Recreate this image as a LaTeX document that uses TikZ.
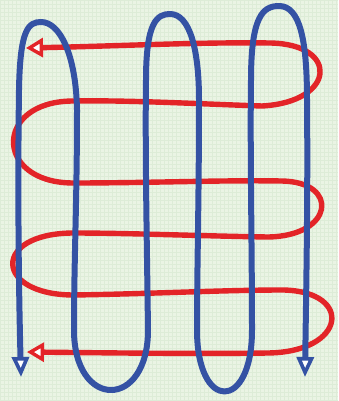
\documentclass[tikz,border=0pt]{standalone}
\usetikzlibrary{arrows.meta}
\definecolor{bgcol}{RGB}{234,244,228}
\definecolor{gridcol}{RGB}{221,236,215}
\definecolor{bluepen}{RGB}{52,82,164}
\definecolor{redpen}{RGB}{227,36,40}
\tikzset{
  redline/.style={draw=redpen, line width=5.4pt, line cap=round, line join=round,
    {Triangle[open, fill=white, length=17pt, width=19pt, line width=3.4pt]}-{Triangle[open, fill=white, length=17pt, width=19pt, line width=3.4pt]}},
  blueline/.style={draw=bluepen, line width=6pt, line cap=round, line join=round,
    {Triangle[open, fill=white, length=20pt, width=17pt, line width=3.6pt]}-{Triangle[open, fill=white, length=20pt, width=17pt, line width=3.6pt]}},
}
\begin{document}
\begin{tikzpicture}[x=1pt,y=-1pt]
\useasboundingbox (0,0) rectangle (338,401);
\fill[bgcol] (0,0) rectangle (338,401);
\draw[gridcol, line width=0.4pt, step=4pt] (0,0) grid (338,401);
% red serpentine (horizontal)
\draw[redline]
  (26,48) .. controls (120,46) and (200,42) .. (270,43)
  .. controls (340,44) and (336,102) .. (262,106)
  .. controls (200,104) and (130,100) .. (72,101)
  .. controls (-6,102) and (-6,182) .. (72,183)
  .. controls (150,183) and (220,180) .. (282,181)
  .. controls (340,182) and (334,236) .. (268,237)
  .. controls (200,236) and (130,233) .. (72,233)
  .. controls (-8,234) and (-6,294) .. (72,295)
  .. controls (150,294) and (220,290) .. (284,290)
  .. controls (354,292) and (346,352) .. (268,353)
  .. controls (200,354) and (120,353) .. (27,352);
% blue serpentine (vertical)
\draw[blueline]
  (21,377) .. controls (18,260) and (18,160) .. (19,90)
  .. controls (20,30) and (28,22) .. (41,22)
  .. controls (60,22) and (76,55) .. (77,110)
  .. controls (77,200) and (74,260) .. (74,330)
  .. controls (74,410) and (148,410) .. (148,330)
  .. controls (147,250) and (145,150) .. (146,80)
  .. controls (146,22) and (157,14) .. (170,14)
  .. controls (190,14) and (199,50) .. (199,100)
  .. controls (199,200) and (197,270) .. (197,330)
  .. controls (197,412) and (252,412) .. (252,330)
  .. controls (252,250) and (250,150) .. (251,80)
  .. controls (251,16) and (263,6) .. (279,6)
  .. controls (300,6) and (307,40) .. (307,100)
  .. controls (308,200) and (306,300) .. (305,377);
\end{tikzpicture}
\end{document}
